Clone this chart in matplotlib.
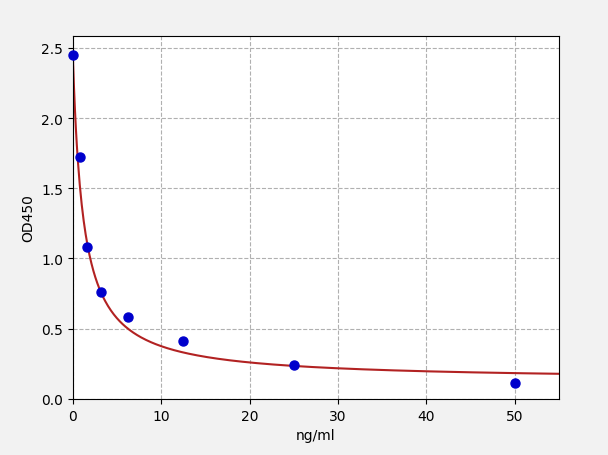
import matplotlib
matplotlib.use("Agg")
import matplotlib.pyplot as plt
import numpy as np

# standard points
conc = [0, 0.78, 1.56, 3.12, 6.25, 12.5, 25, 50]
od450 = [2.45, 1.72, 1.08, 0.76, 0.58, 0.41, 0.24, 0.11]

# 4PL fit parameters
fit_a = 2.42
fit_b = 1.0
fit_c = 1.2
fit_d = 0.13

x_fit = np.linspace(0, 55, 500)
y_fit = fit_d + (fit_a - fit_d) / (1 + (x_fit / fit_c) ** fit_b)

fig = plt.figure(figsize=(6.08, 4.56), dpi=100, facecolor="#f2f2f2")
ax = fig.add_axes([0.12, 0.123, 0.799, 0.796])
ax.set_facecolor("white")

ax.plot(x_fit, y_fit, color="#b22222", lw=1.5, zorder=2)
ax.plot(conc, od450, "o", color="#0000cc", markersize=6.5, zorder=3, clip_on=False)

ax.set_xlim(0, 55)
ax.set_ylim(0, 2.585)
ax.set_xticks([0, 10, 20, 30, 40, 50])
ax.set_yticks([0.0, 0.5, 1.0, 1.5, 2.0, 2.5])
ax.grid(True, linestyle="--", color="#b0b0b0", lw=0.8)
ax.set_axisbelow(True)
ax.set_xlabel("ng/ml")
ax.set_ylabel("OD450")

fig.savefig("out.png", dpi=100, facecolor=fig.get_facecolor())
